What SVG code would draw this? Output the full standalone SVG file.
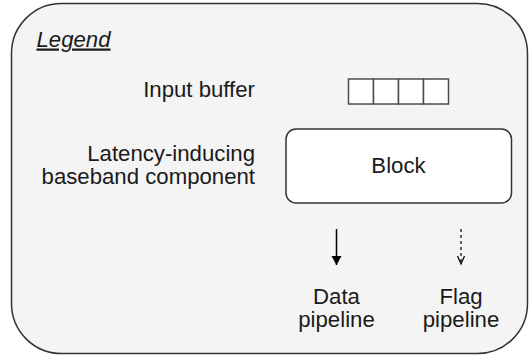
<svg xmlns="http://www.w3.org/2000/svg" width="529" height="356" viewBox="0 0 529 356">
<defs>
<style>
text{font-family:"Liberation Sans",Arial,sans-serif;font-size:22.2px;fill:#1a1a1a}
.r{text-anchor:end}
.c{text-anchor:middle}
.cell{fill:#ffffff;stroke:#4d4d4d;stroke-width:1.5}
</style>
<marker id="solid" markerWidth="12" markerHeight="12" viewBox="0 0 12 12" refX="10" refY="6" orient="auto" markerUnits="userSpaceOnUse">
<path d="M1,1 L10,6 L1,11 Z" fill="#000"/>
</marker>
<marker id="open" markerWidth="12" markerHeight="12" viewBox="0 0 12 12" refX="10" refY="6" orient="auto" markerUnits="userSpaceOnUse">
<path d="M2,2.5 L10,6 L2,9.5" fill="none" stroke="#000" stroke-width="1.2"/>
</marker>
</defs>
<g id="legend-frame">
<rect x="11.5" y="3.5" width="516" height="350" rx="50" ry="50" fill="#f4f4f4" stroke="#333333" stroke-width="1.5"/>
<text x="36.5" y="46.5" font-style="italic" text-decoration="underline">Legend</text>
</g>
<g id="input-buffer">
<text class="r" x="255" y="97">Input buffer</text>
<rect class="cell" x="348.5" y="79" width="25" height="25"/>
<rect class="cell" x="373.5" y="79" width="25" height="25"/>
<rect class="cell" x="398.5" y="79" width="25" height="25"/>
<rect class="cell" x="423.5" y="79" width="25" height="25"/>
</g>
<g id="block">
<text class="r" x="255" y="160.5">Latency-inducing</text>
<text class="r" x="255" y="184">baseband component</text>
<rect x="286" y="129" width="225.5" height="74" rx="10" ry="10" fill="#ffffff" stroke="#333333" stroke-width="1.5"/>
<text class="c" x="398.5" y="173">Block</text>
</g>
<g id="connectors">
<line x1="336.5" y1="229" x2="336.5" y2="265" stroke="#000" stroke-width="1.5" marker-end="url(#solid)"/>
<line x1="461" y1="229" x2="461" y2="264" stroke="#000" stroke-width="1.2" stroke-dasharray="3,3" marker-end="url(#open)"/>
</g>
<g id="data-pipeline">
<text class="c" x="336.5" y="304">Data</text>
<text class="c" x="336.5" y="327">pipeline</text>
</g>
<g id="flag-pipeline">
<text class="c" x="461" y="304">Flag</text>
<text class="c" x="461" y="327">pipeline</text>
</g>
</svg>
